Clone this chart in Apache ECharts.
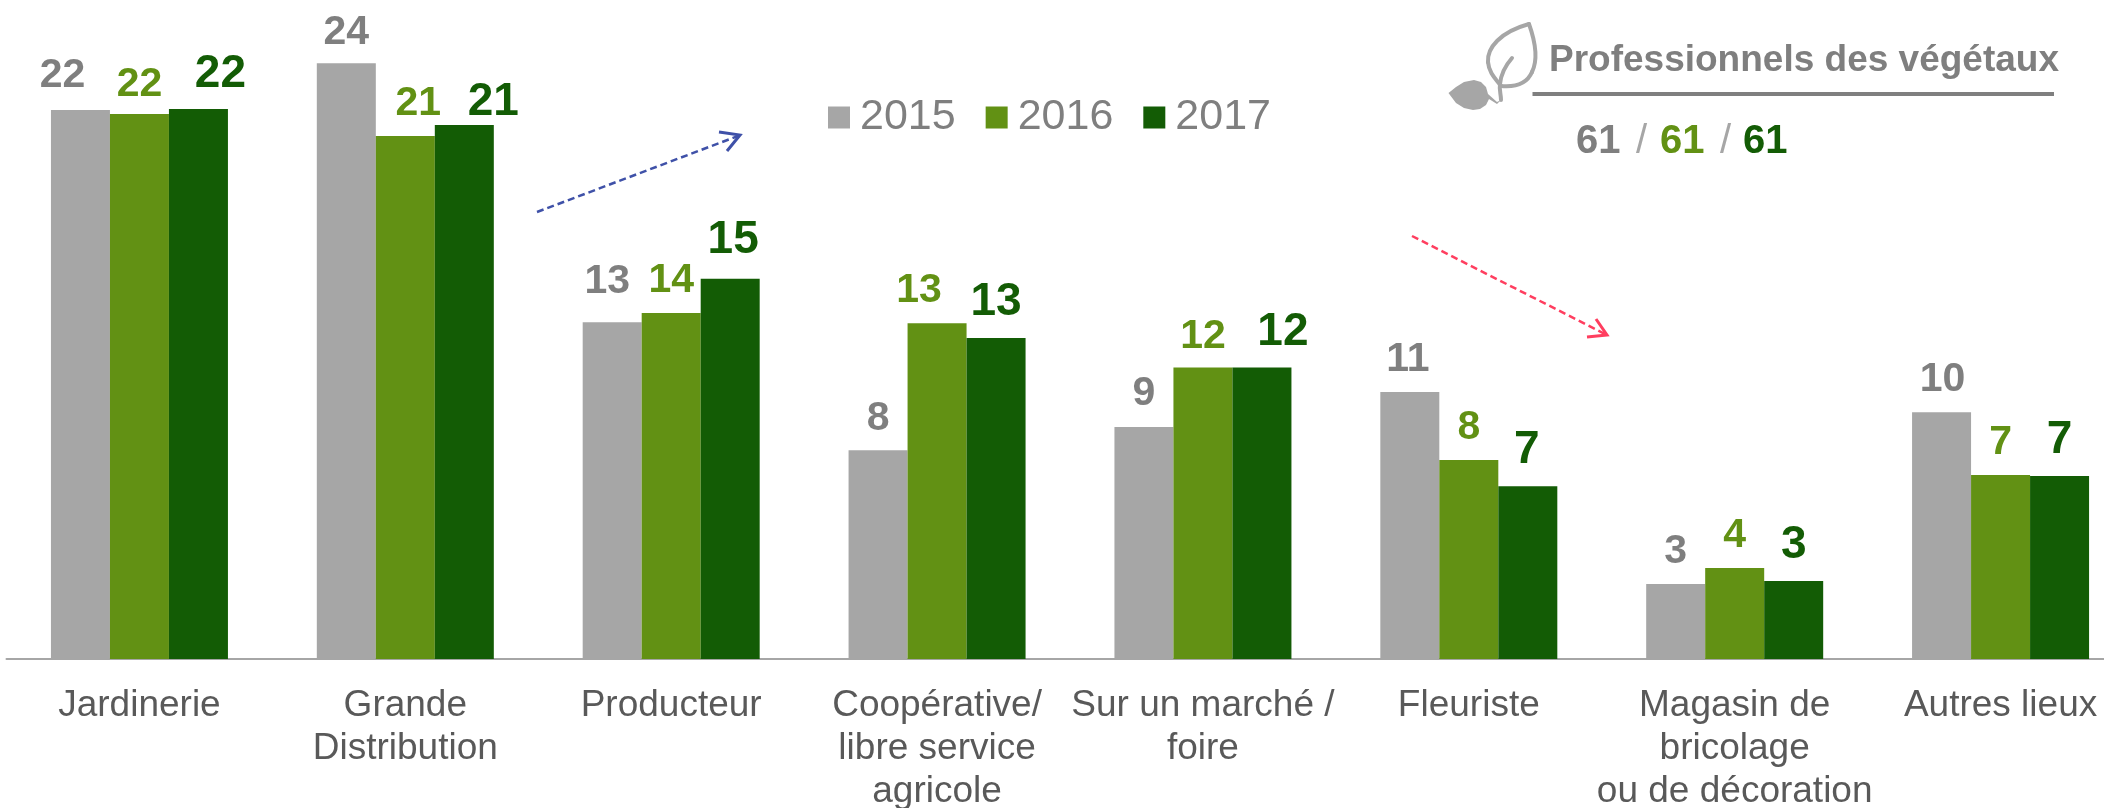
<!DOCTYPE html>
<html><head><meta charset="utf-8">
<style>html,body{margin:0;padding:0;background:#fff;overflow:hidden}#c{width:2104px;height:808px}</style>
<script src="https://cdn.jsdelivr.net/npm/echarts@6/dist/echarts.min.js"></script>
</head><body><div id="c"></div>
<script>
const categories = ['Jardinerie','Grande\nDistribution','Producteur','Coopérative/\nlibre service\nagricole','Sur un marché /\nfoire','Fleuriste','Magasin de\nbricolage\nou de décoration','Autres lieux'];
const years = ['2015','2016','2017'];
const v2015 = [21.66,23.5,13.29,8.24,9.15,10.53,2.96,9.74];
const v2016 = [21.5,20.63,13.65,13.25,11.5,7.85,3.59,7.26];
const v2017 = [21.7,21.07,15,12.66,11.5,6.82,3.08,7.22];
const totals = ['61','61','61'];
const colors = ['#a6a6a6','#629114','#135c05'];
const labelColors = ['#7f7f7f','#629114','#135c05'];
const font = '"Liberation Sans", Arial, sans-serif';
// nudges of the value labels away from their default place above each bar
const nudge2015 = [[-18,-2.5],[0,1],[-5,-8],[0,1],[0,-1.5],[-2,0],[0,0],[1,0]];
const nudge2016 = [[0,2.5],[13,0],[0,0],[-18,0],[0,1.5],[0,0],[0,0],[0,0]];
const nudge2017 = [[22,0.5],[29,12.5],[3,-3],[0,0],[21,0],[-1,0],[0,0],[0,0]];

function barSeries(name, values, nudges, i, size, distance){
  return {
    name, type:'bar', barWidth:59, barGap:0,
    itemStyle:{color:colors[i]},
    data: values.map((v,k)=>({value:v,label:{offset:nudges[k]}})),
    label:{show:true,position:'top',distance,color:labelColors[i],fontFamily:font,fontWeight:'bold',fontSize:size,
      formatter:p=>String(Math.round(p.value))}
  };
}
function arrow(pts,head,color,w){
  return [
   {type:'polyline',shape:{points:pts},style:{stroke:color,lineWidth:w,lineDash:[7,4],fill:null}},
   {type:'polyline',shape:{points:head},style:{stroke:color,lineWidth:w+0.5,fill:null}}
  ];
}
function txt(x,y,text,color,size,weight){
  return {type:'text',x,y,style:{text,fill:color,fontFamily:font,fontSize:size,fontWeight:weight,textVerticalAlign:'middle',textAlign:'left'}};
}
function curve(a,c1,c2,b,color,w){
  return {type:'bezierCurve',shape:{x1:a[0],y1:a[1],cpx1:c1[0],cpy1:c1[1],cpx2:c2[0],cpy2:c2[1],x2:b[0],y2:b[1]},style:{stroke:color,lineWidth:w,fill:null,lineCap:'round'}};
}
const leafColor='#a6a6a6';
const chart = echarts.init(document.getElementById('c'),null,{renderer:'canvas'});
chart.setOption({
  animation:false,
  backgroundColor:'#fff',
  grid:{left:6.5,width:2127,top:0,height:659,containLabel:false,outerBoundsMode:'none'},
  xAxis:{type:'category',data:categories,
    axisTick:{show:false},
    axisLine:{lineStyle:{color:'#a6a6a6',width:2}},
    axisLabel:{interval:0,color:'#595959',fontFamily:font,fontSize:37,lineHeight:43,margin:25,align:'center'}},
  yAxis:{type:'value',min:0,max:26,show:false,splitLine:{show:false}},
  legend:{data:years,left:828,top:96,padding:0,icon:'rect',itemWidth:22,itemHeight:22,itemGap:30,
    textStyle:{color:'#7f7f7f',fontFamily:font,fontSize:43,padding:[0,0,0,5]}},
  series:[
    barSeries(years[0],v2015,nudge2015,0,41,11.5),
    barSeries(years[1],v2016,nudge2016,1,41,11.5),
    barSeries(years[2],v2017,nudge2017,2,46,12.5)
  ],
  graphic:[
    ...arrow([[537,212],[738,136]],[[719,132],[740,135],[727,151]],'#3f51a8',2.5),
    ...arrow([[1412,236],[1605,334]],[[1596,319],[1607,335],[1587,337]],'#ff3e5f',2.5),
    txt(1549,61,'Professionnels des végétaux','#7f7f7f',37,'bold'),
    {type:'rect',shape:{x:1532.5,y:92,width:521.5,height:4},style:{fill:'#7f7f7f'}},
    txt(1576,142,totals[0],labelColors[0],40,'bold'),
    txt(1636,142,'/','#a6a6a6',40,'normal'),
    txt(1660,142,totals[1],labelColors[1],40,'bold'),
    txt(1720,142,'/','#a6a6a6',40,'normal'),
    txt(1743,142,totals[2],labelColors[2],40,'bold'),
    curve([1529,24],[1500,32],[1487,48],[1488,62],leafColor,4),
    curve([1488,62],[1489,74],[1497,80],[1501,86],leafColor,4),
    curve([1501,86],[1512,87],[1526,86],[1532,72],leafColor,4),
    curve([1532,72],[1539,58],[1534,38],[1529,24],leafColor,4),
    curve([1512,58],[1505,66],[1501,74],[1500,84],leafColor,4),
    curve([1500,84],[1499,90],[1501,94],[1501,100],leafColor,4),
    {type:'polygon',shape:{points:[[1448.5,93],[1456,87],[1464,82],[1474,80],[1481,82],[1486,87],[1488,94],[1497,102],[1501,100],[1497,104],[1489,99],[1486,105],[1480,109],[1473,110],[1464,108],[1456,103]]},style:{fill:leafColor}}
  ]
});
</script></body></html>
